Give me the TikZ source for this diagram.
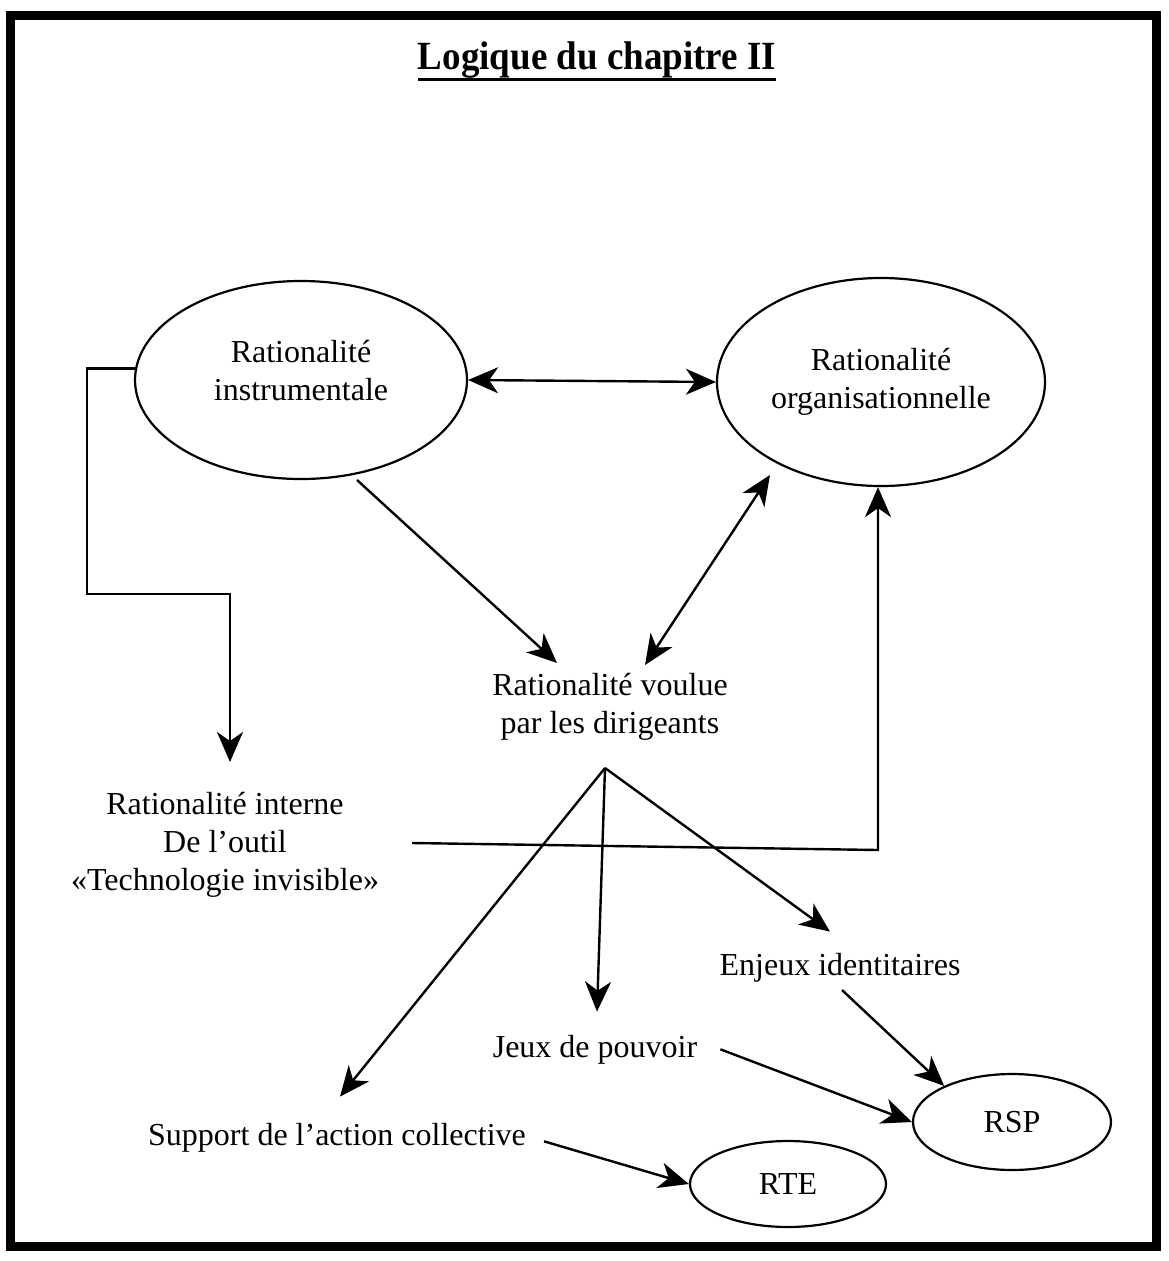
\documentclass[tikz,border=0pt]{standalone}
\usepackage{fontspec}
\usepackage{graphicx}
\setmainfont{Liberation Serif}
\usetikzlibrary{shapes.geometric,arrows.meta,calc}

\begin{document}
\begin{tikzpicture}[x=1pt,y=-1pt,
  txt/.style={font=\fontsize{32}{38}\selectfont, align=center, inner sep=2pt},
  oval/.style={draw, ellipse, line width=2.2pt},
  arr/.style={line width=2.4pt, -{Stealth[length=30pt,width=26pt,inset=9pt]}},
  darr/.style={line width=2.4pt, {Stealth[length=30pt,width=26pt,inset=9pt]}-{Stealth[length=30pt,width=26pt,inset=9pt]}}]

\useasboundingbox (0,0) rectangle (1168,1261);

% outer frame
\draw[line width=9pt] (10,15) rectangle (1156,1246);

% title, underlined
\node[anchor=base, font=\fontsize{40}{48}\selectfont\bfseries, inner sep=0pt] (title) at (597,69)
  {\scalebox{0.925}[1]{Logique du chapitre II}};
\draw[line width=3pt] ([yshift=-10pt]title.base west) -- ([yshift=-10pt]title.base east);

% the two rationalities
\node[oval, minimum width=332pt, minimum height=198pt,
      label={[txt, yshift=9pt]center:Rationalité\\instrumentale}] (instr) at (301,380) {};
\node[txt, oval, minimum width=328pt, minimum height=208pt] (org) at (881,382)
  {Rationalité\\organisationnelle};

% labels
\node[txt] (voulue) at (610,707) {Rationalité voulue\\par les dirigeants};
\node[txt] (interne) at (225,845) {Rationalité interne\\De l’outil\\«Technologie invisible»};
\node[txt, anchor=base] (enjeux) at (840,975) {Enjeux identitaires};
\node[txt, anchor=base] (jeux) at (595,1057) {Jeux de pouvoir};
\node[txt, anchor=base] (support) at (337,1145) {Support de l’action collective};

% results
\node[txt, oval, minimum width=198pt, minimum height=96pt] (rsp) at (1012,1122) {RSP};
\node[txt, oval, minimum width=196pt, minimum height=86pt] (rte) at (788,1184) {RTE};

% connectors
\draw[darr] (instr.east) -- (org.west);
\draw[arr] ($(instr.center)+(56,100)$) -- ($(voulue.center)+(-53,-44)$);
\draw[darr] ($(org.center)+(-111,93)$) -- ($(voulue.center)+(35,-42)$);

\draw[arr] (instr.176) -| (87,594) -| ($(interne.center)+(5,-83)$);

\coordinate (turn) at (878,850);
\draw[arr] ($(interne.center)+(187,-2)$) -- (turn) -- (turn |- org.south);

\coordinate (fork) at ($(voulue.center)+(-5,61)$);
\draw[arr] (fork) -- ($(support.north)+(3,-24)$);
\draw[arr] (fork) -- ($(jeux.north)+(2,-21)$);
\draw[arr] (fork) -- ($(enjeux.north)+(-10,-19)$);

\draw[arr] ($(jeux.east)+(21,0)$) -- (rsp.west);
\draw[arr] ($(enjeux.south)+(2,6)$) -- (rsp.152);
\draw[arr] ($(support.east)+(16,4)$) -- (rte.west);

\end{tikzpicture}
\end{document}
